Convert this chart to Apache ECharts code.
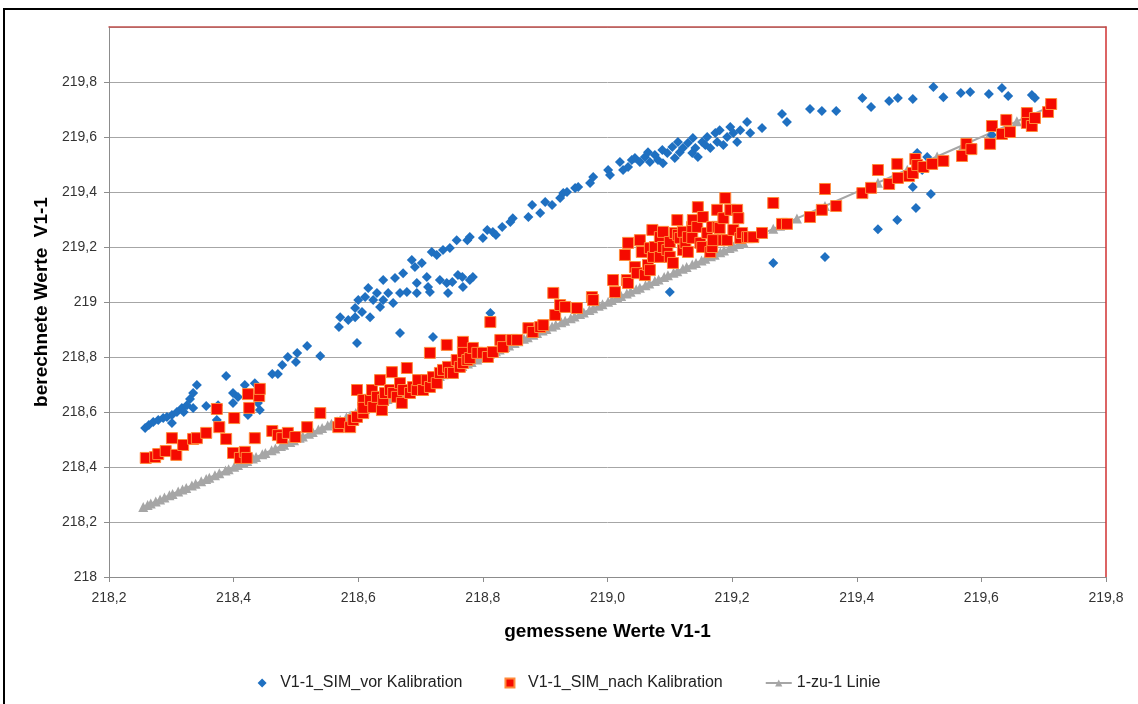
<!DOCTYPE html>
<html><head><meta charset="utf-8">
<script src="https://cdn.jsdelivr.net/npm/echarts@6/dist/echarts.min.js"></script>
<style>html,body{margin:0;padding:0;background:#fff}#c{width:1138px;height:704px}</style>
</head><body><div id="c"></div>
<script>
// ---- data ----
const xTicks = [218.2,218.4,218.6,218.8,219.0,219.2,219.4,219.6,219.8];
const yTicks = [218,218.2,218.4,218.6,218.8,219,219.2,219.4,219.6,219.8];
const seriesNames = ['V1-1_SIM_vor Kalibration','V1-1_SIM_nach Kalibration','1-zu-1 Linie'];

const blueX = [218.258,218.264,218.271,218.279,218.287,218.293,218.301,218.301,218.309,218.317,218.320,218.325,218.330,218.335,218.341,218.335,218.356,218.373,218.375,218.388,218.399,218.399,218.407,218.418,218.423,218.434,218.442,218.439,218.462,218.471,218.478,218.487,218.500,218.502,218.518,218.539,218.569,218.571,218.584,218.595,218.598,218.595,218.606,218.600,218.611,218.616,218.619,218.624,218.630,218.635,218.640,218.640,218.648,218.656,218.659,218.667,218.667,218.672,218.678,218.686,218.691,218.694,218.694,218.702,218.710,218.712,218.715,218.718,218.720,218.726,218.731,218.736,218.742,218.744,218.747,218.751,218.758,218.760,218.767,218.768,218.775,218.779,218.779,218.784,218.800,218.807,218.812,218.816,218.821,218.831,218.844,218.848,218.873,218.879,218.892,218.900,218.911,218.924,218.929,218.935,218.948,218.953,218.972,218.977,219.001,219.004,219.020,219.025,219.033,219.039,219.044,219.052,219.060,219.065,219.068,219.076,219.081,219.088,219.089,219.096,219.104,219.108,219.113,219.116,219.121,219.129,219.136,219.137,219.141,219.145,219.152,219.157,219.160,219.165,219.173,219.176,219.180,219.186,219.192,219.197,219.202,219.208,219.213,219.224,219.229,219.100,219.248,219.266,219.280,219.288,219.325,219.344,219.349,219.367,219.409,219.423,219.434,219.452,219.465,219.466,219.490,219.490,219.495,219.497,219.505,219.513,219.519,219.523,219.539,219.567,219.582,219.612,219.617,219.633,219.643,219.681,219.686,219.710];
const blueY = [218.542,218.553,218.564,218.571,218.578,218.582,218.560,218.589,218.600,218.615,218.600,218.625,218.647,218.669,218.698,218.615,218.622,218.571,218.625,218.731,218.633,218.669,218.655,218.698,218.589,218.705,218.607,218.633,218.738,218.738,218.771,218.800,218.782,218.815,218.840,218.804,218.909,218.945,218.935,218.945,218.851,218.978,218.964,219.007,219.018,219.051,218.945,219.007,219.033,218.982,219.007,219.080,219.033,218.996,219.087,219.033,218.887,219.105,219.036,219.153,219.127,219.033,219.069,219.142,219.091,219.055,219.036,219.182,218.873,219.171,219.080,219.189,219.069,219.033,219.196,219.073,219.225,219.098,219.091,219.055,219.225,219.236,219.080,219.091,219.233,219.262,218.960,219.255,219.244,219.273,219.291,219.305,219.309,219.353,219.324,219.364,219.353,219.378,219.396,219.400,219.415,219.418,219.433,219.455,219.480,219.462,219.509,219.480,219.491,219.516,219.524,219.509,219.527,219.545,219.509,219.535,219.516,219.553,219.505,219.542,219.564,219.524,219.582,219.545,219.560,219.578,219.542,219.596,219.560,219.527,219.582,219.571,219.600,219.560,219.615,219.582,219.625,219.571,219.600,219.636,219.615,219.582,219.625,219.655,219.615,219.036,219.633,219.142,219.684,219.655,219.702,219.695,219.164,219.695,219.742,219.709,219.265,219.731,219.298,219.742,219.738,219.418,219.342,219.542,219.480,219.527,219.393,219.782,219.745,219.760,219.764,219.756,219.607,219.778,219.749,219.753,219.742,219.724];

const redX = [218.259,218.274,218.279,218.291,218.301,218.308,218.319,218.335,218.341,218.356,218.373,218.377,218.388,218.401,218.399,218.410,218.418,218.421,218.423,218.425,218.441,218.442,218.434,218.462,218.471,218.478,218.487,218.499,218.518,218.539,218.568,218.571,218.587,218.592,218.598,218.598,218.608,218.608,218.608,218.619,218.622,218.624,218.630,218.635,218.638,218.640,218.643,218.651,218.654,218.656,218.662,218.667,218.670,218.672,218.678,218.683,218.688,218.694,218.696,218.704,218.710,218.715,218.715,218.720,218.726,218.731,218.736,218.742,218.744,218.747,218.752,218.758,218.763,218.768,218.768,218.768,218.775,218.779,218.784,218.791,218.800,218.808,218.812,218.816,218.828,218.832,218.847,218.855,218.873,218.880,218.892,218.897,218.913,218.916,218.924,218.932,218.951,218.975,218.977,219.009,219.012,219.028,219.031,219.033,219.033,219.044,219.047,219.052,219.055,219.060,219.065,219.068,219.068,219.072,219.073,219.076,219.084,219.084,219.089,219.089,219.096,219.100,219.100,219.105,219.108,219.112,219.113,219.116,219.121,219.121,219.125,219.129,219.129,219.136,219.136,219.137,219.144,219.145,219.149,219.152,219.153,219.160,219.165,219.168,219.168,219.169,219.176,219.177,219.180,219.186,219.186,219.189,219.192,219.197,219.202,219.208,219.210,219.213,219.216,219.224,219.227,219.234,219.248,219.266,219.280,219.288,219.325,219.344,219.349,219.367,219.409,219.423,219.434,219.452,219.465,219.466,219.484,219.490,219.494,219.497,219.507,219.521,219.539,219.569,219.576,219.584,219.614,219.617,219.633,219.640,219.646,219.673,219.673,219.681,219.686,219.707,219.712];
const redY = [218.433,218.436,218.447,218.458,218.505,218.444,218.480,218.502,218.505,218.524,218.611,218.545,218.502,218.578,218.451,218.433,218.455,218.433,218.665,218.615,218.658,218.684,218.505,218.531,218.516,218.505,218.524,218.509,218.545,218.596,218.545,218.560,218.545,218.571,218.680,218.582,218.596,218.644,218.615,218.644,218.680,218.618,218.655,218.716,218.607,218.644,218.669,218.680,218.745,218.669,218.655,218.705,218.633,218.680,218.760,218.669,218.691,218.680,218.716,218.680,218.716,218.691,218.815,218.727,218.705,218.742,218.753,218.844,218.764,218.742,218.742,218.789,218.764,218.778,218.818,218.855,218.789,218.796,218.833,218.815,218.815,218.800,218.927,218.818,218.862,218.836,218.862,218.862,218.905,218.891,218.909,218.916,219.033,218.953,218.989,218.982,218.978,219.018,219.007,219.080,219.036,219.171,219.080,219.069,219.215,219.127,219.105,219.225,219.182,219.098,219.135,219.196,219.116,219.262,219.164,219.200,219.164,219.236,219.255,219.200,219.189,219.218,219.164,219.142,219.251,219.298,219.244,219.233,219.255,219.189,219.215,219.182,219.236,219.233,219.273,219.298,219.273,219.345,219.215,219.200,219.309,219.251,219.182,219.200,219.273,219.225,219.335,219.273,219.269,219.305,219.225,219.378,219.225,219.335,219.262,219.335,219.305,219.233,219.251,219.236,219.236,219.236,219.251,219.360,219.284,219.284,219.309,219.335,219.411,219.349,219.396,219.415,219.480,219.429,219.502,219.451,219.458,219.469,219.520,219.498,219.491,219.502,219.513,219.531,219.575,219.556,219.575,219.640,219.611,219.662,219.618,219.687,219.651,219.640,219.669,219.691,219.720];

const oneToOne = [218.255,218.262,218.267,218.275,218.282,218.289,218.297,218.302,218.311,218.318,218.324,218.333,218.339,218.348,218.356,218.361,218.370,218.377,218.387,218.392,218.401,218.407,218.416,218.422,218.431,218.436,218.446,218.451,218.461,218.467,218.476,218.481,218.491,218.497,218.506,218.511,218.521,218.527,218.536,218.542,218.551,218.557,218.566,218.571,218.581,218.587,218.596,218.602,218.611,218.617,218.626,218.632,218.641,218.647,218.656,218.662,218.671,218.677,218.686,218.692,218.701,218.707,218.716,218.721,218.731,218.737,218.746,218.751,218.761,218.767,218.776,218.782,218.791,218.797,218.806,218.811,218.821,218.827,218.836,218.842,218.851,218.857,218.866,218.872,218.881,218.887,218.896,218.902,218.911,218.917,218.926,218.932,218.941,218.947,218.956,218.962,218.971,218.977,218.986,218.992,219.001,219.007,219.016,219.022,219.031,219.037,219.046,219.052,219.061,219.067,219.076,219.082,219.091,219.097,219.106,219.112,219.121,219.127,219.136,219.142,219.151,219.157,219.166,219.172,219.181,219.187,219.196,219.202,219.211,219.218,219.266,219.277,219.304,219.349,219.434,219.481,219.529,219.571,219.614,219.657,219.705];

// ---- build ----
const pairs = (xs, ys) => xs.map((x, i) => [x, ys[i]]);
const comma = (v, d) => (d == null ? String(Math.round(v * 10) / 10) : v.toFixed(d)).replace('.', ',');
const FONT = '"Liberation Sans", Arial, sans-serif';

const chart = echarts.init(document.getElementById('c'), null, {renderer: 'canvas'});
chart.setOption({
  animation: false,
  backgroundColor: '#ffffff',
  grid: {left: 109, right: 32, top: 27, bottom: 127, show: false},
  graphic: [{
    type: 'rect', silent: true, z: -10,
    shape: {x: 4, y: 9, width: 1200, height: 800},
    style: {fill: 'none', stroke: '#000', lineWidth: 2}
  }],
  xAxis: [{
    type: 'value', min: xTicks[0], max: xTicks[xTicks.length - 1], interval: 0.2,
    name: 'gemessene Werte V1-1', nameLocation: 'middle', nameGap: 45,
    nameTextStyle: {fontFamily: FONT, fontSize: 19, fontWeight: 'bold', color: '#000'},
    axisLine: {show: true, lineStyle: {color: '#8c8c8c', width: 1}},
    axisTick: {show: true, length: 5, lineStyle: {color: '#8c8c8c'}},
    axisLabel: {fontFamily: FONT, fontSize: 14, color: '#333', margin: 14, formatter: v => comma(v, 1)},
    splitLine: {show: false}
  }, {
    type: 'value', position: 'top', min: xTicks[0], max: xTicks[xTicks.length - 1],
    axisLine: {show: true, onZero: false, lineStyle: {color: '#c0504d', width: 1.5}},
    axisTick: {show: false}, axisLabel: {show: false}, splitLine: {show: false}
  }],
  yAxis: [{
    type: 'value', min: 218, max: 220, interval: 0.2,
    name: 'berechnete Werte  V1-1', nameLocation: 'middle', nameGap: 58,
    nameTextStyle: {fontFamily: FONT, fontSize: 19, fontWeight: 'bold', color: '#000'},
    axisLine: {show: true, lineStyle: {color: '#8c8c8c', width: 1}},
    axisTick: {show: true, length: 5, lineStyle: {color: '#8c8c8c'}},
    axisLabel: {fontFamily: FONT, fontSize: 14, color: '#333', margin: 12, showMaxLabel: false,
      formatter: v => comma(v)},
    splitLine: {show: true, lineStyle: {color: '#a6a6a6', width: 1}}
  }, {
    type: 'value', position: 'right', min: 218, max: 220,
    axisLine: {show: true, onZero: false, lineStyle: {color: '#d03030', width: 1.5}},
    axisTick: {show: false}, axisLabel: {show: false}, splitLine: {show: false}
  }],
  legend: {
    bottom: 8, left: 'center', itemGap: 42, itemWidth: 26, itemHeight: 9,
    symbolKeepAspect: true,
    textStyle: {fontFamily: FONT, fontSize: 16, color: '#222'},
    data: [
      {name: seriesNames[0], icon: 'path://M0,-1L1,0L0,1L-1,0Z'},
      {name: seriesNames[1], icon: 'path://M0,0H1V1H0Z'},
      {name: seriesNames[2]}
    ]
  },
  series: [{
    name: seriesNames[2], type: 'line', z: 1,
    data: oneToOne.map(v => [v, v]),
    symbol: 'triangle', symbolSize: 10, showSymbol: true,
    lineStyle: {color: '#a6a6a6', width: 2},
    itemStyle: {color: '#a6a6a6'}
  }, {
    name: seriesNames[0], type: 'scatter', z: 2,
    data: pairs(blueX, blueY),
    symbol: 'diamond', symbolSize: 10,
    itemStyle: {color: '#1f70c1', opacity: 1}
  }, {
    name: seriesNames[1], type: 'scatter', z: 3,
    data: pairs(redX, redY),
    symbol: 'rect', symbolSize: 11,
    itemStyle: {color: '#f50a00', borderColor: '#ff8a3a', borderWidth: 1, opacity: 1}
  }]
});
</script></body></html>
